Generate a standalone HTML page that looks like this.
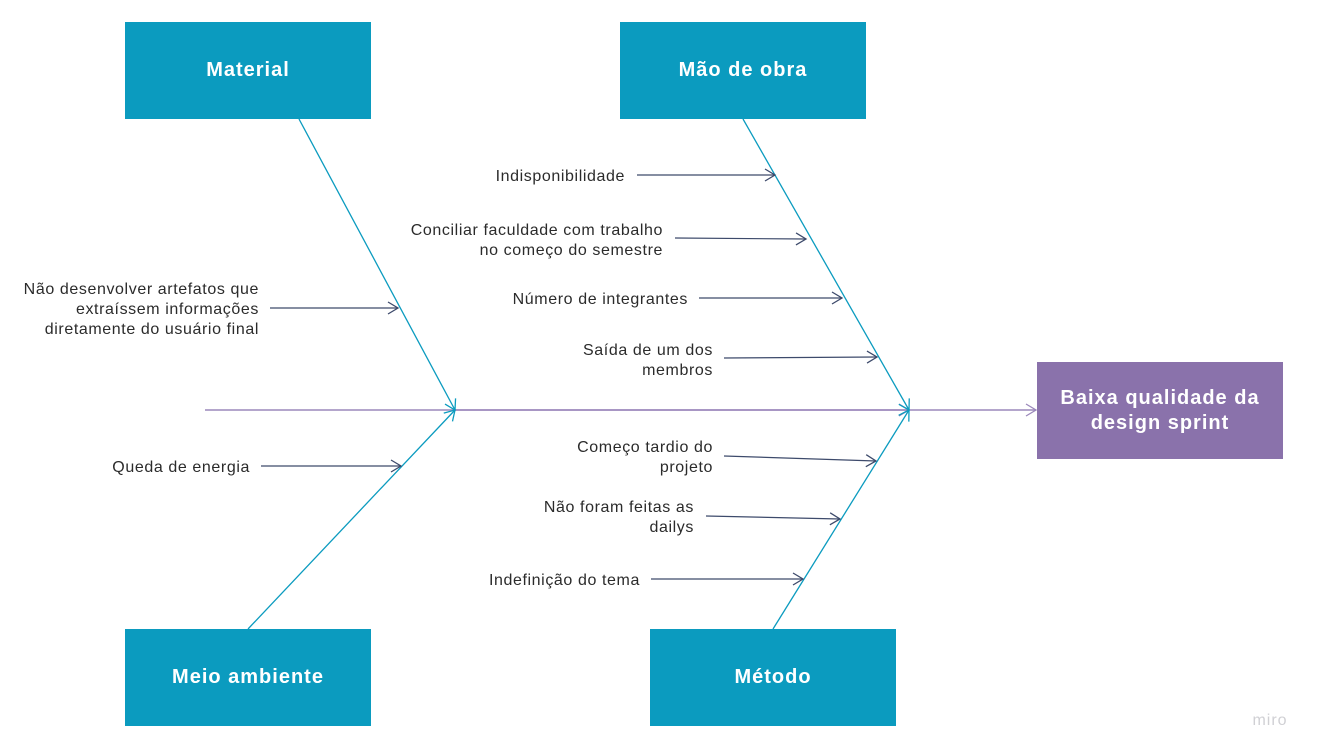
<!DOCTYPE html>
<html><head><meta charset="utf-8"><style>
html,body{margin:0;padding:0;background:#fff;}
svg{display:block;font-family:"Liberation Sans",sans-serif;}
.t{font-size:16px;letter-spacing:0.6px;fill:#2b2b2b;text-anchor:end;}
.b{font-size:20px;letter-spacing:1px;font-weight:bold;fill:#fff;text-anchor:middle;}
</style></head><body>
<svg width="1321" height="756" viewBox="0 0 1321 756">
<defs>
<marker id="ad" markerWidth="14" markerHeight="14" refX="12" refY="7" orient="auto" markerUnits="userSpaceOnUse"><path d="M2,1 L12,7 L2,13" fill="none" stroke="#3d4a6b" stroke-width="1.3"/></marker>
<marker id="ab" markerWidth="14" markerHeight="14" refX="12" refY="7" orient="auto" markerUnits="userSpaceOnUse"><path d="M2,1 L12,7 L2,13" fill="none" stroke="#0b9bbf" stroke-width="1.3"/></marker>
<marker id="ap" markerWidth="14" markerHeight="14" refX="12" refY="7" orient="auto" markerUnits="userSpaceOnUse"><path d="M2,1 L12,7 L2,13" fill="none" stroke="#9b88bb" stroke-width="1.3"/></marker>
</defs>
<rect x="125" y="22" width="246" height="97" fill="#0b9bbf"/>
<text class="b" x="248" y="76">Material</text>
<rect x="620" y="22" width="246" height="97" fill="#0b9bbf"/>
<text class="b" x="743" y="76">Mão de obra</text>
<rect x="125" y="629" width="246" height="97" fill="#0b9bbf"/>
<text class="b" x="248" y="683">Meio ambiente</text>
<rect x="650" y="629" width="246" height="97" fill="#0b9bbf"/>
<text class="b" x="773" y="683">Método</text>
<rect x="1037" y="362" width="246" height="97" fill="#8a72ab"/>
<text class="b" x="1160" y="404">Baixa qualidade da</text>
<text class="b" x="1160" y="429">design sprint</text>

<line x1="205" y1="410" x2="1036" y2="410" stroke="#9b88bb" stroke-width="1.5" marker-end="url(#ap)"/>
<line x1="455" y1="410" x2="909" y2="410" stroke="#9b88bb" stroke-width="1.5" marker-end="url(#ap)"/>
<line x1="299" y1="119" x2="455" y2="410" stroke="#0b9bbf" stroke-width="1.3" marker-end="url(#ab)"/>
<line x1="248" y1="629" x2="455" y2="410" stroke="#0b9bbf" stroke-width="1.3" marker-end="url(#ab)"/>
<line x1="743" y1="119" x2="909" y2="410" stroke="#0b9bbf" stroke-width="1.3" marker-end="url(#ab)"/>
<line x1="773" y1="629" x2="909" y2="410" stroke="#0b9bbf" stroke-width="1.3" marker-end="url(#ab)"/>

<g stroke="#3d4a6b" stroke-width="1.2" marker-end="url(#ad)">
<line x1="637" y1="175" x2="775" y2="175"/>
<line x1="675" y1="238" x2="806" y2="239"/>
<line x1="699" y1="298" x2="842" y2="298"/>
<line x1="724" y1="358" x2="877" y2="357"/>
<line x1="724" y1="456" x2="876" y2="461"/>
<line x1="706" y1="516" x2="840" y2="519"/>
<line x1="651" y1="579" x2="803" y2="579"/>
<line x1="270" y1="308" x2="398" y2="308"/>
<line x1="261" y1="466" x2="401" y2="466"/>
</g>

<text class="t" x="625" y="181">Indisponibilidade</text>
<text class="t" x="663" y="235">Conciliar faculdade com trabalho</text>
<text class="t" x="663" y="255">no começo do semestre</text>
<text class="t" x="688" y="304">Número de integrantes</text>
<text class="t" x="713" y="355">Saída de um dos</text>
<text class="t" x="713" y="375">membros</text>
<text class="t" x="713" y="452">Começo tardio do</text>
<text class="t" x="713" y="472">projeto</text>
<text class="t" x="694" y="512">Não foram feitas as</text>
<text class="t" x="694" y="532">dailys</text>
<text class="t" x="640" y="585">Indefinição do tema</text>
<text class="t" x="259" y="294">Não desenvolver artefatos que</text>
<text class="t" x="259" y="314">extraíssem informações</text>
<text class="t" x="259" y="334">diretamente do usuário final</text>
<text class="t" x="250" y="472">Queda de energia</text>
<text x="1270" y="725" style="font-size:16px;letter-spacing:1px;fill:#d0d0d4;text-anchor:middle">miro</text>
</svg>
</body></html>
